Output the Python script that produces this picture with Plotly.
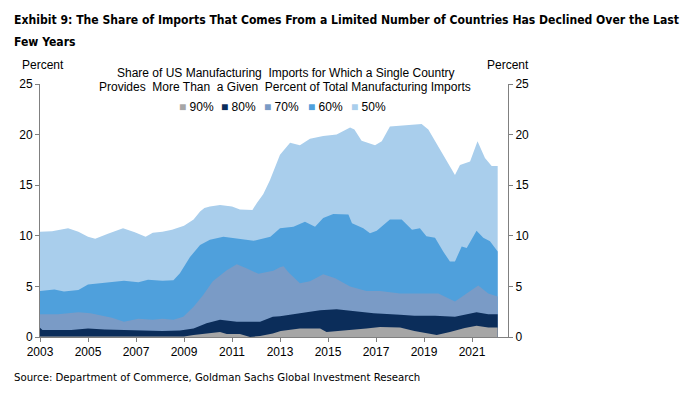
import plotly.graph_objects as go

# ---- data ----
yrs50 = [2003.0, 2003.5, 2004.17, 2004.6, 2005.0, 2005.3, 2005.83, 2006.46, 2006.95, 2007.4, 2007.7,
         2008.1, 2008.5, 2009.0, 2009.4, 2009.67, 2009.85, 2010.08, 2010.5, 2011.0, 2011.33, 2011.85,
         2012.05, 2012.3, 2012.58, 2012.86, 2013.0, 2013.42, 2013.83, 2014.25, 2014.8, 2015.36,
         2015.92, 2016.1, 2016.4, 2016.96, 2017.24, 2017.58, 2018.0, 2018.9, 2019.18, 2019.6,
         2020.0, 2020.29, 2020.5, 2020.92, 2021.23, 2021.54, 2021.82, 2022.07]
v50 = [10.4, 10.45, 10.75, 10.4, 9.9, 9.7, 10.2, 10.75, 10.35, 9.9, 10.3,
       10.4, 10.6, 11.0, 11.6, 12.4, 12.75, 12.9, 13.05, 12.9, 12.6, 12.55,
       13.3, 14.1, 15.5, 17.3, 18.0, 19.2, 18.95, 19.6, 19.85, 20.0,
       20.7, 20.5, 19.4, 18.95, 19.35, 20.8, 20.9, 21.05, 20.5, 18.85,
       17.2, 16.0, 17.0, 17.35, 19.35, 17.7, 16.9, 16.9]

yrs60 = [2003.0, 2003.6, 2004.0, 2004.6, 2005.0, 2005.83, 2006.5, 2007.1, 2007.5, 2008.1, 2008.56,
         2008.83, 2009.25, 2009.67, 2010.08, 2010.64, 2011.2, 2011.9, 2012.6, 2013.0, 2013.56,
         2014.04, 2014.46, 2014.8, 2015.22, 2015.85, 2016.0, 2016.47, 2016.75, 2017.03, 2017.58,
         2018.07, 2018.5, 2018.83, 2019.1, 2019.46, 2019.8, 2020.08, 2020.29, 2020.57, 2020.78,
         2021.19, 2021.47, 2021.75, 2022.07]
v60 = [4.55, 4.7, 4.5, 4.65, 5.2, 5.4, 5.55, 5.4, 5.65, 5.55, 5.6,
       6.3, 7.9, 9.1, 9.6, 9.9, 9.7, 9.5, 9.9, 10.75, 10.9,
       11.4, 10.9, 11.75, 12.15, 12.1, 11.25, 10.75, 10.25, 10.5, 11.6,
       11.6, 10.6, 10.75, 9.95, 9.8, 8.45, 7.45, 7.45, 8.95, 8.8,
       10.5, 9.8, 9.45, 8.45]

yrs70 = [2003.0, 2003.75, 2004.6, 2005.1, 2006.0, 2006.5, 2007.1, 2007.7, 2008.1, 2008.56, 2008.97,
         2009.4, 2009.8, 2010.2, 2010.78, 2011.2, 2011.6, 2012.1, 2012.72, 2013.0, 2013.15,
         2013.35, 2013.83, 2014.25, 2014.8, 2015.3, 2015.92, 2016.6, 2017.17, 2018.0, 2018.6,
         2019.6, 2020.29, 2020.7, 2021.26, 2021.68, 2022.07]
v70 = [2.25, 2.25, 2.45, 2.35, 1.9, 1.5, 1.8, 1.7, 1.8, 1.7, 2.0,
       3.0, 4.15, 5.5, 6.6, 7.2, 6.8, 6.25, 6.55, 6.9, 7.0,
       6.4, 5.3, 5.5, 6.2, 5.8, 5.0, 4.55, 4.55, 4.3, 4.3,
       4.3, 3.5, 4.15, 5.1, 4.3, 4.0]

yrs80 = [2003.0, 2003.1, 2004.3, 2005.0, 2005.7, 2007.0, 2008.1, 2008.83, 2009.4, 2009.94, 2010.5,
         2011.2, 2012.17, 2012.7, 2013.0, 2013.83, 2014.67, 2015.36, 2016.05, 2016.9, 2018.0,
         2018.6, 2019.46, 2020.29, 2021.19, 2021.68, 2022.07]
v80 = [0.92, 0.7, 0.7, 0.85, 0.75, 0.7, 0.6, 0.65, 0.85, 1.35, 1.7,
       1.5, 1.5, 2.0, 2.05, 2.35, 2.65, 2.75, 2.6, 2.35, 2.2,
       2.1, 2.1, 2.0, 2.45, 2.25, 2.25]

yrs90 = [2003.0, 2009.0, 2009.4, 2009.9, 2010.5, 2010.78, 2011.33, 2011.75, 2012.17, 2012.7, 2013.03,
         2013.83, 2014.67, 2014.94, 2015.8, 2016.6, 2017.17, 2018.0, 2018.6, 2019.18, 2019.53,
         2020.08, 2020.7, 2021.19, 2021.68, 2022.07]
v90 = [0.05, 0.05, 0.2, 0.35, 0.5, 0.3, 0.3, 0.0, 0.1, 0.35, 0.6,
       0.85, 0.85, 0.5, 0.65, 0.85, 1.0, 0.95, 0.6, 0.35, 0.2,
       0.5, 0.9, 1.1, 0.95, 0.95]

series_names = ["50%", "60%", "70%", "80%", "90%"]
legend_order = ["90%", "80%", "70%", "60%", "50%"]
colors = {"50%": "#A9CEEC", "60%": "#4FA0DC", "70%": "#7A9BC6", "80%": "#0B2D5A", "90%": "#A6A6A6"}
xtick_vals = [2003, 2005, 2007, 2009, 2011, 2013, 2015, 2017, 2019, 2021]
ytick_vals = [0, 5, 10, 15, 20, 25]

title1 = "Exhibit 9: The Share of Imports That Comes From a Limited Number of Countries Has Declined Over the Last"
title2 = "Few Years"
sub1 = "Share of US Manufacturing  Imports for Which a Single Country"
sub2 = "Provides  More Than  a Given  Percent of Total Manufacturing Imports"
source = "Source: Department of Commerce, Goldman Sachs Global Investment Research"

data = {"50%": (yrs50, v50), "60%": (yrs60, v60), "70%": (yrs70, v70),
        "80%": (yrs80, v80), "90%": (yrs90, v90)}

fig = go.Figure()
for name in series_names:
    xs, ys = data[name]
    fig.add_trace(go.Scatter(x=xs, y=ys, mode="lines", fill="tozeroy",
                             line=dict(width=0, color=colors[name]),
                             fillcolor=colors[name], showlegend=False, hoverinfo="skip"))
# invisible trace to show right axis
fig.add_trace(go.Scatter(x=[2003], y=[0], yaxis="y2", mode="markers",
                         marker=dict(opacity=0), showlegend=False, hoverinfo="skip"))

FONT = "Liberation Sans, Arial, sans-serif"
NARROW = "DejaVu Sans Condensed, Liberation Sans Narrow, sans-serif"

OFF = 8  # page body margin
W, H = 700 - OFF, 398 - OFF
# plot area in page pixels
L, R, T, B = 40, 508, 84, 337
def px(x):
    return (x - L) / (R - L)
def py(y):
    return (B - y) / (B - T)

axis_common = dict(showline=True, linecolor="#808080", linewidth=1, ticks="outside",
                   tickcolor="#808080", ticklen=4, showgrid=False, zeroline=False,
                   tickfont=dict(family=FONT, size=12, color="#000000"))

fig.update_layout(
    width=W, height=H,
    margin=dict(l=L - OFF, r=700 - R, t=T - OFF, b=398 - B),
    paper_bgcolor="white", plot_bgcolor="white",
    showlegend=False,
    xaxis=dict(range=[2003, 2022.5], tickvals=xtick_vals, ticktext=[str(v) for v in xtick_vals],
               **axis_common),
    yaxis=dict(range=[0, 25], tickvals=ytick_vals, **axis_common),
    yaxis2=dict(range=[0, 25], tickvals=ytick_vals, overlaying="y", side="right", anchor="x",
                **axis_common),
)

ann = []
ann.append(dict(text="<b>" + title1 + "</b>", x=px(12), y=py(20), xanchor="left", yanchor="middle",
                font=dict(family=NARROW, size=12.1, color="#000")))
ann.append(dict(text="<b>" + title2 + "</b>", x=px(12), y=py(42), xanchor="left", yanchor="middle",
                font=dict(family=NARROW, size=12.1, color="#000")))
ann.append(dict(text="Percent", x=px(43), y=py(65), xanchor="center", yanchor="middle",
                font=dict(family=FONT, size=12, color="#000")))
ann.append(dict(text="Percent", x=px(508), y=py(65), xanchor="center", yanchor="middle",
                font=dict(family=FONT, size=12, color="#000")))
ann.append(dict(text=sub1, x=px(285), y=py(73), xanchor="center", yanchor="middle",
                font=dict(family=FONT, size=12, color="#000")))
ann.append(dict(text=sub2, x=px(285), y=py(87), xanchor="center", yanchor="middle",
                font=dict(family=FONT, size=12, color="#000")))
ann.append(dict(text=source, x=px(12), y=py(377), xanchor="left", yanchor="middle",
                font=dict(family=NARROW, size=11.3, color="#000")))
leg_x = [177, 219, 262, 306, 349]
for name, lx in zip(legend_order, leg_x):
    ann.append(dict(text="<span style='color:%s'>■</span> %s" % (colors[name], name),
                    x=px(lx), y=py(107), xanchor="left", yanchor="middle",
                    font=dict(family=FONT, size=12, color="#000")))
for a in ann:
    a.update(xref="paper", yref="paper", showarrow=False)
fig.update_layout(annotations=ann)

fig.write_html("out.html")
